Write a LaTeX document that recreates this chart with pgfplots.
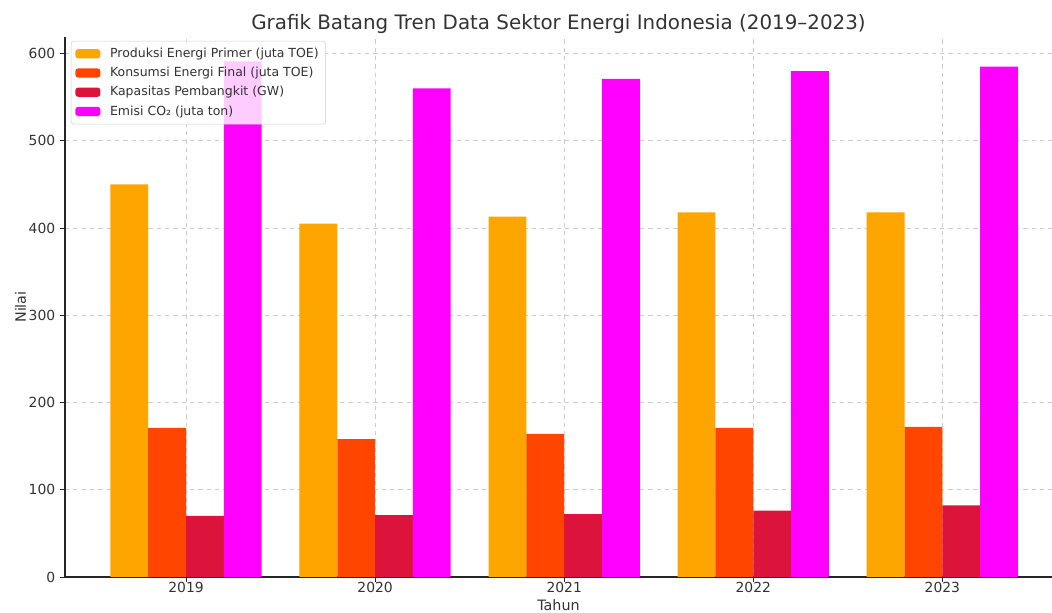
\documentclass[border=0pt]{standalone}
\usepackage{fontspec}
\setmainfont{DejaVu Sans}
\usepackage{pgfplots}
\pgfplotsset{compat=1.18}
\usetikzlibrary{calc}
\definecolor{cprod}{HTML}{FFA500}
\definecolor{ckons}{HTML}{FF4500}
\definecolor{ckap}{HTML}{DC143C}
\definecolor{cemi}{HTML}{FF00FF}
\definecolor{txt}{HTML}{333333}
\definecolor{gridc}{HTML}{CCCCCC}

\begin{document}
\begin{tikzpicture}
\begin{axis}[
    scale only axis,
    width=710.64pt, height=388.8pt,
    xmin=-0.64, xmax=4.58,
    ymin=0, ymax=619,
    axis x line*=bottom,
    axis y line*=left,
    axis line style={black!85, line width=0.8pt},
    xtick={0,1,2,3,4},
    xticklabels={2019,2020,2021,2022,2023},
    ytick={0,100,...,600},
    tick align=outside,
    major tick length=3.5pt,
    tick style={black!85, line width=0.6pt},
    /pgf/number format/assume math mode=true,
    ticklabel style={font=\fontsize{10}{12}\selectfont, text=txt},
    xticklabel style={yshift=3pt},
    grid=major,
    major grid style={gridc, dashed, line width=0.5pt},
    title={Grafik Batang Tren Data Sektor Energi Indonesia (2019–2023)},
    title style={font=\fontsize{14.3}{16}\selectfont, text=txt, yshift=-7pt},
    xlabel={Tahun},
    ylabel={Nilai},
    label style={font=\fontsize{10.3}{12}\selectfont, text=txt},
    xlabel style={yshift=2pt},
    ylabel style={yshift=-5pt},
    ybar,
    bar width=0.2,
    legend cell align=left,
    legend style={
        at={(0.006,0.993)}, anchor=north west,
        font=\fontsize{9}{11}\selectfont, text=txt,
        draw=black!18, rounded corners=2pt,
        fill=white, fill opacity=0.8, text opacity=1, draw opacity=1,
        row sep=1.5pt, column sep=5pt, inner sep=3pt,
    },
    area legend,
    legend image code/.code={\fill[#1, fill opacity=1] (0pt,-3.3pt) rectangle (18pt,3.3pt);},
]
\addplot[fill=cprod, draw=none, bar shift=-0.3]
    coordinates {(0,450) (1,405) (2,413) (3,418) (4,418)};
\addplot[fill=ckons, draw=none, bar shift=-0.1]
    coordinates {(0,171) (1,158) (2,164) (3,171) (4,172)};
\addplot[fill=ckap, draw=none, bar shift=0.1]
    coordinates {(0,70) (1,71) (2,72) (3,76) (4,82)};
\addplot[fill=cemi, draw=none, bar shift=0.3]
    coordinates {(0,591) (1,560) (2,571) (3,580) (4,585)};
\legend{Produksi Energi Primer (juta TOE), Konsumsi Energi Final (juta TOE), Kapasitas Pembangkit (GW), Emisi CO₂ (juta ton)}
\coordinate (o) at (rel axis cs:0,0);
\end{axis}
\pgfresetboundingbox
\path[use as bounding box] ($(o)+(-46.8pt,-25.92pt)$) rectangle ++(757.44pt,441.36pt);
\end{tikzpicture}
\end{document}
